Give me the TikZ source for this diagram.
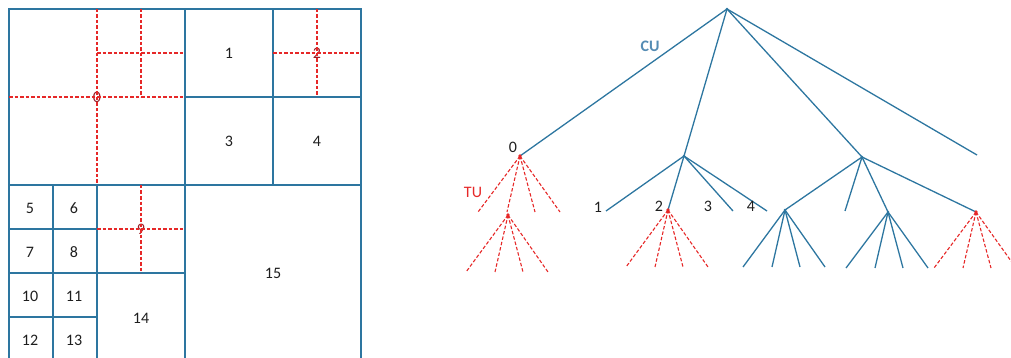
\documentclass[tikz,border=0pt]{standalone}
\usepackage{fontspec}
\setmainfont{Carlito}
\definecolor{cublue}{RGB}{45,118,160}
\definecolor{cutext}{RGB}{85,140,180}
\definecolor{tured}{RGB}{230,40,40}
\definecolor{tutext}{RGB}{150,30,40}
\definecolor{labelblack}{RGB}{30,30,30}

\begin{document}
\begin{tikzpicture}[x=1pt,y=-1pt,
    culine/.style={cublue,line width=1.3pt},
    tuline/.style={tured,line width=1.1pt,dash pattern=on 3.5pt off 2pt},
    numlabel/.style={labelblack,inner sep=0pt,font=\fontsize{16}{18}\selectfont}]
  \useasboundingbox (0,0) rectangle (1011,358);

  % --- quadtree partition (left) ---
  % outer square: 4 cells of 88 per side, bottom edge lies below the page
  \draw[culine] (9,9) rectangle (361,361);
  \draw[culine] (185,9) -- (185,361);
  \draw[culine] (9,185) -- (361,185);
  \draw[culine] (273,9) -- (273,185);
  \draw[culine] (185,97) -- (361,97);
  \draw[culine] (97,185) -- (97,361);
  \draw[culine] (53,185) -- (53,361);
  \draw[culine] (9,229) -- (97,229);
  \draw[culine] (9,273) -- (185,273);
  \draw[culine] (9,317) -- (97,317);

  % block numbers
  \node[numlabel,tutext] (q0) at (97,97) {0};
  \node[numlabel] (q1) at (229,53) {1};
  \node[numlabel,tutext] (q2) at (317,53) {2};
  \node[numlabel] (q3) at (229,141) {3};
  \node[numlabel] (q4) at (317,141) {4};
  \node[numlabel] (q5) at (30,208) {5};
  \node[numlabel] (q6) at (74,208) {6};
  \node[numlabel] (q7) at (30,252) {7};
  \node[numlabel] (q8) at (74,252) {8};
  \node[numlabel,tutext] (q9) at (141,229) {9};
  \node[numlabel] (q10) at (30,296) {10};
  \node[numlabel] (q11) at (74,296) {11};
  \node[numlabel] (q12) at (30,340) {12};
  \node[numlabel] (q13) at (74,340) {13};
  \node[numlabel] (q14) at (141,318) {14};
  \node[numlabel] (q15) at (273,273) {15};

  % transform splits (dashed)
  \draw[tuline] (97,9) -- (97,185);
  \draw[tuline] (9,97) -- (185,97);
  \draw[tuline] (141,9) -- (141,97);
  \draw[tuline] (97,53) -- (185,53);
  \draw[tuline] (317,9) -- (317,97);
  \draw[tuline] (273,53) -- (361,53);
  \draw[tuline] (141,185) -- (141,273);
  \draw[tuline] (97,229) -- (185,229);

  % --- coding tree (right) ---
  \coordinate (root) at (727,9);
  \coordinate (c0) at (520,156);
  \coordinate (c1) at (684,156);
  \coordinate (c2) at (862,157);
  \coordinate (c3) at (977,155);
  % children of c1
  \coordinate (c10) at (606,211);
  \coordinate (c11) at (668,210);
  \coordinate (c12) at (733,211);
  \coordinate (c13) at (767,211);
  % children of c2
  \coordinate (c20) at (785,210);
  \coordinate (c21) at (845,211);
  \coordinate (c22) at (888,212);
  \coordinate (c23) at (976,212);
  % split TU under c0
  \coordinate (t0s) at (508,215);

  \foreach \c in {c0,c1,c2,c3}
    \draw[culine] (root) -- (\c);
  \foreach \c in {c10,c11,c12,c13}
    \draw[culine] (c1) -- (\c);
  \foreach \c in {c20,c21,c22,c23}
    \draw[culine] (c2) -- (\c);

  % transform trees hanging from the leaf CUs
  \foreach \dx [count=\i] in {-42,-13,15,40} {
    \path (c0) ++(\dx,56) coordinate (t0-\i);
    \path (t0s) ++(\dx,57) coordinate (ts-\i);
    \path (c11) ++(\dx,57) coordinate (t11-\i);
    \path (c23) ++(\dx,56) coordinate (t23-\i);
    \path (c20) ++(\dx,57) coordinate (b20-\i);
    \path (c22) ++(\dx,56) coordinate (b22-\i);
    \draw[tuline] (c0) -- (t0-\i);
    \draw[tuline] (t0s) -- (ts-\i);
    \draw[tuline] (c11) -- (t11-\i);
    \draw[tuline] (c23) -- (t23-\i);
    \draw[culine] (c20) -- (b20-\i);
    \draw[culine] (c22) -- (b22-\i);
  }

  % node dots
  \foreach \c in {c0,t0s,c11,c23}
    \fill[tured] (\c) circle (1.8pt);
  \foreach \c in {root,c1,c2,c20,c22}
    \fill[cublue] (\c) circle (1.3pt);

  % labels
  \node[numlabel] (l0) at (513,147) {0};
  \node[numlabel] (l1) at (598,207) {1};
  \node[numlabel] (l2) at (659,206) {2};
  \node[numlabel] (l3) at (708,206) {3};
  \node[numlabel] (l4) at (751,206) {4};
  \node[numlabel,cutext,font=\fontsize{16}{18}\selectfont\bfseries] (lcu) at (650,46) {CU};
  \node[numlabel,tured] (ltu) at (473,192) {TU};

\end{tikzpicture}
\end{document}
